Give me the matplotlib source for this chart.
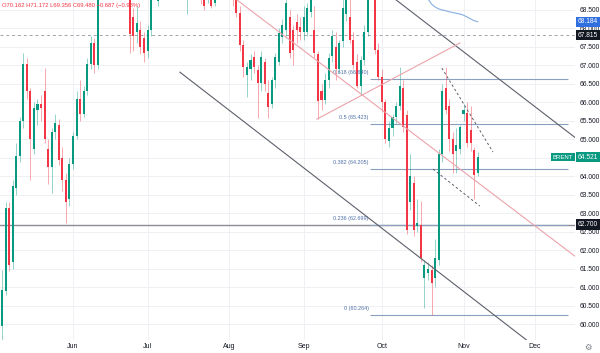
import matplotlib.pyplot as plt
import numpy as np

plt.rcParams['font.family'] = ['Liberation Sans', 'DejaVu Sans']

opens = [59.96, 60.90, 63.15, 61.70, 63.70, 64.55, 65.50, 67.05, 66.30, 64.75,
         65.80, 65.95, 66.30, 64.75, 64.25, 65.20, 65.40, 64.50, 63.90, 63.40,
         64.35, 65.10, 66.10, 65.70, 66.30, 67.05, 67.60, 67.00, 69.70, 69.40,
         74.50, 73.20, 76.40, 76.70, 78.80, 78.00, 71.30, 68.30, 67.90, 67.95,
         67.75, 67.40, 67.95, 69.10, 68.75, 69.10, 69.60, 70.10, 70.20, 69.20,
         70.30, 69.20, 69.00, 69.30, 69.60, 69.30, 69.20, 69.00, 68.80, 69.10,
         68.70, 70.00, 72.50, 73.20, 71.70, 69.70, 68.90, 68.42, 67.55, 66.74,
         66.90, 67.23, 66.88, 66.53, 67.10, 66.26, 65.95, 66.60, 67.10, 67.77,
         67.95, 68.30, 67.96, 68.18, 68.05, 67.90, 67.90, 68.45, 67.95, 67.30,
         66.30, 66.07, 66.60, 67.25, 67.50, 66.90, 67.65, 68.40, 68.30, 67.70,
         67.10, 66.45, 67.15, 67.90, 68.90, 69.60, 67.42, 66.69, 66.00, 64.95,
         65.30, 65.60, 65.90, 66.40, 65.66, 63.30, 63.82, 62.65, 62.70, 61.25,
         61.40, 61.47, 61.25, 61.74, 64.60, 66.40, 65.90, 65.00, 64.70, 64.75,
         65.70, 65.72, 65.25, 64.72, 64.10]
highs = [61.47, 63.30, 63.30, 63.90, 64.90, 65.60, 67.35, 67.20, 66.40, 66.00,
         66.10, 66.20, 66.93, 65.00, 65.30, 65.70, 65.55, 64.80, 64.10, 64.50,
         65.20, 66.30, 66.60, 66.45, 67.20, 67.80, 67.75, 70.00, 70.20, 78.50,
         75.00, 76.80, 77.50, 79.00, 79.00, 81.40, 71.50, 68.55, 68.60, 68.20,
         67.90, 68.10, 69.30, 69.60, 69.30, 69.90, 70.40, 70.60, 70.50, 70.50,
         70.80, 69.50, 69.60, 69.90, 70.10, 69.80, 69.40, 69.10, 69.40, 69.30,
         70.20, 72.70, 73.60, 73.50, 71.90, 69.90, 69.10, 68.60, 67.70, 67.10,
         67.30, 67.40, 67.00, 67.40, 67.20, 66.60, 66.70, 67.35, 68.00, 68.25,
         69.00, 68.50, 68.10, 68.40, 68.30, 68.60, 68.70, 69.30, 68.60, 67.40,
         66.50, 66.80, 67.35, 67.95, 67.90, 67.70, 68.90, 69.00, 68.90, 67.90,
         67.30, 67.25, 68.10, 69.10, 69.90, 69.80, 67.60, 66.90, 66.10, 65.50,
         65.70, 66.00, 66.96, 66.60, 65.80, 64.60, 64.00, 63.40, 63.35, 61.75,
         61.70, 61.60, 62.30, 64.75, 66.50, 66.95, 66.10, 65.20, 65.30, 65.40,
         65.95, 66.00, 65.90, 64.80, 64.66]
lows = [59.55, 60.80, 61.45, 61.50, 63.50, 64.40, 65.30, 66.10, 63.90, 64.60,
        65.40, 65.50, 64.90, 63.80, 63.55, 65.00, 64.30, 63.60, 62.75, 63.20,
        64.20, 65.00, 65.50, 65.60, 66.20, 66.90, 66.80, 66.90, 68.90, 69.00,
        72.50, 72.90, 75.70, 76.00, 76.50, 70.50, 67.35, 67.40, 67.60, 67.30,
        67.10, 67.20, 67.80, 68.90, 68.60, 69.00, 69.30, 69.50, 69.00, 69.10,
        69.10, 68.90, 68.40, 69.10, 69.10, 69.00, 68.65, 68.50, 68.70, 68.55,
        68.60, 69.90, 72.20, 71.50, 69.40, 68.60, 68.30, 67.40, 66.70, 66.15,
        66.60, 66.80, 65.58, 66.30, 66.30, 65.58, 65.85, 66.40, 67.00, 67.60,
        67.80, 67.20, 67.00, 67.60, 67.70, 67.70, 67.80, 68.30, 67.20, 65.55,
        65.80, 65.95, 66.40, 67.10, 66.60, 66.80, 67.50, 68.20, 67.60, 66.90,
        66.40, 66.20, 67.00, 67.80, 68.80, 67.30, 66.60, 65.74, 64.90, 64.80,
        65.10, 65.45, 65.80, 65.20, 62.45, 63.10, 62.40, 62.50, 61.70, 60.45,
        61.20, 60.26, 61.00, 61.60, 64.40, 65.70, 64.70, 64.10, 64.10, 64.60,
        65.50, 64.80, 64.70, 63.40, 64.00]
closes = [60.93, 63.15, 61.60, 63.75, 64.55, 65.50, 67.05, 66.30, 65.00, 65.85,
          65.95, 65.85, 65.00, 64.25, 65.20, 65.45, 64.45, 63.90, 63.30, 64.35,
          65.10, 66.10, 65.70, 66.30, 67.05, 67.60, 67.00, 69.77, 69.36, 74.23,
          73.23, 76.45, 76.70, 78.85, 77.01, 71.48, 67.85, 67.80, 68.15, 67.50,
          67.35, 67.95, 69.10, 69.20, 69.10, 69.60, 70.15, 70.19, 69.20, 70.36,
          69.21, 69.00, 69.30, 69.60, 69.28, 69.21, 69.00, 68.60, 69.18, 68.62,
          70.04, 72.51, 73.24, 71.70, 69.70, 68.85, 68.42, 67.55, 66.96, 66.96,
          67.15, 66.96, 66.53, 67.23, 66.50, 65.88, 66.60, 67.23, 67.88, 68.10,
          68.70, 67.34, 67.42, 67.96, 67.90, 68.30, 68.55, 68.95, 67.35, 66.05,
          66.07, 66.60, 67.20, 67.80, 66.90, 67.60, 68.55, 68.85, 67.70, 67.00,
          66.45, 67.15, 67.90, 68.90, 69.80, 67.42, 66.69, 66.00, 65.00, 65.30,
          65.60, 65.90, 66.45, 65.35, 62.55, 64.00, 62.55, 62.75, 61.80, 61.60,
          61.50, 61.12, 61.80, 64.60, 66.30, 65.80, 65.00, 64.60, 64.85, 65.35,
          65.80, 64.90, 64.90, 64.04, 64.521]

month_pos = [20, 41, 64, 85, 107, 130, 150]
month_labels = ['Jun', 'Jul', 'Aug', 'Sep', 'Oct', 'Nov', 'Dec']

# blue average line, only its tail is inside the window
ma_start = 118
ma_vals = [69.10, 68.95, 68.80, 68.66, 68.58, 68.53, 68.50, 68.48, 68.45,
           68.43, 68.41, 68.39, 68.36, 68.31, 68.26, 68.21, 68.184]

fib_ratios = [0, 0.236, 0.382, 0.5, 0.618]
fib_prices = [60.264, 62.699, 64.205, 65.423, 66.640]
fib_x = (103.7, 159.4)

# drawings as (bar, price) end points
black_lines = [((50.1, 66.82), (165, 58.3)), ((109, 68.92), (162, 65.01))]
pink_lines = [((64, 68.93), (162, 61.80)), ((88.7, 65.55), (129, 67.61))]
dashed_lines = [((123.9, 66.93), (138.3, 64.66)), ((121.4, 64.20), (134.6, 63.20))]

last_price = 64.521
ma_last = 68.184
dashed_level = 67.815
support_level = 62.700

price_ticks = [60.0, 60.5, 61.0, 61.5, 62.0, 62.5, 63.0, 63.5, 64.0, 64.5,
               65.0, 65.5, 66.0, 66.5, 67.0, 67.5, 68.0, 68.5]

GREEN = '#089981'
RED = '#f23645'

fig = plt.figure(figsize=(6, 3.53), dpi=100)
ax = fig.add_axes([0, 13 / 353, 575 / 600, 340 / 353])
ax.set_xlim(-0.56, 161.4)
ax.set_ylim(59.58, 68.77)

# grid + scales (64.500 sits under the last-price tag)
ax.set_yticks(price_ticks, ['' if t == 64.5 else f'{t:.3f}' for t in price_ticks])
ax.set_xticks(month_pos, month_labels)
ax.grid(True, color='#eef0f4', lw=0.7)
ax.set_axisbelow(True)
for s in ax.spines.values():
    s.set_visible(False)
ax.yaxis.tick_right()
ax.tick_params(axis='y', length=0, pad=3, labelsize=4.8, labelcolor='#131722')
ax.tick_params(axis='x', length=0, pad=2.5, labelsize=5, labelcolor='#131722')

# candles
o = np.array(opens)
c = np.array(closes)
idx = np.arange(len(o))
cols = np.where(c >= o, GREEN, RED)
ax.vlines(idx, lows, highs, colors=cols, lw=0.5, alpha=0.6, zorder=3)
body = np.maximum(np.abs(c - o), 0.03)
ax.bar(idx, body, bottom=np.minimum(o, c), width=0.58, color=cols, lw=0, zorder=4)

# horizontal levels
ax.axhline(support_level, color='#8a8d96', lw=1.0, zorder=2)
ax.axhline(dashed_level, color='#a0a3aa', lw=0.7, ls=(0, (3, 3)), zorder=2)

# fib retracement
for r, p in zip(fib_ratios, fib_prices):
    ax.hlines(p, fib_x[0], fib_x[1], color='#8aa0c0', lw=0.8, zorder=2)
    ax.text(fib_x[0] - 0.4, p + 0.16, f'{r:g} ({p:.3f})', ha='right', va='center',
            fontsize=3.9, color='#4d6fa6', zorder=5)

for (a, b) in black_lines:
    ax.plot([a[0], b[0]], [a[1], b[1]], color='#5d606b', lw=0.8, zorder=5)
for (a, b) in pink_lines:
    ax.plot([a[0], b[0]], [a[1], b[1]], color='#eba3aa', lw=0.8, zorder=5)
for (a, b) in dashed_lines:
    ax.plot([a[0], b[0]], [a[1], b[1]], color='#5d606b', lw=0.7, ls=(0, (2.5, 2.5)), zorder=5)

ax.plot(np.arange(ma_start, ma_start + len(ma_vals)), ma_vals, color='#86aee0', lw=0.8, zorder=5)

# price scale tags
ytr = ax.get_yaxis_transform()
for p, txt, fc in [(ma_last, f'{ma_last:.3f}', '#2f6fe0'),
                   (dashed_level, f'{dashed_level:.3f}', '#131722'),
                   (support_level, f'{support_level:.3f}', '#131722'),
                   (last_price, f'{last_price:.3f}', GREEN)]:
    ax.text(1.005, p, txt, transform=ytr, ha='left', va='center', fontsize=4.8,
            color='white', clip_on=False, zorder=10,
            bbox=dict(boxstyle='square,pad=0.25', fc=fc, ec='none'))
ax.text(0.997, last_price, 'BRENT', transform=ytr, ha='right', va='center', fontsize=4.3,
        color='white', zorder=10, bbox=dict(boxstyle='square,pad=0.25', fc=GREEN, ec='none'))

fig.text(2 / 600, 1 - 5 / 353, 'O70.162 H71.172 L69.356 C69.480 \u22120.687 (\u22120.98%)',
         fontsize=4.2, color=RED, va='center', ha='left')
fig.text(588 / 600, 1 - 347 / 353, '\u2699', fontsize=6, color='#787b86',
         ha='center', va='center', family='DejaVu Sans')

fig.savefig('out.png', dpi=100)
